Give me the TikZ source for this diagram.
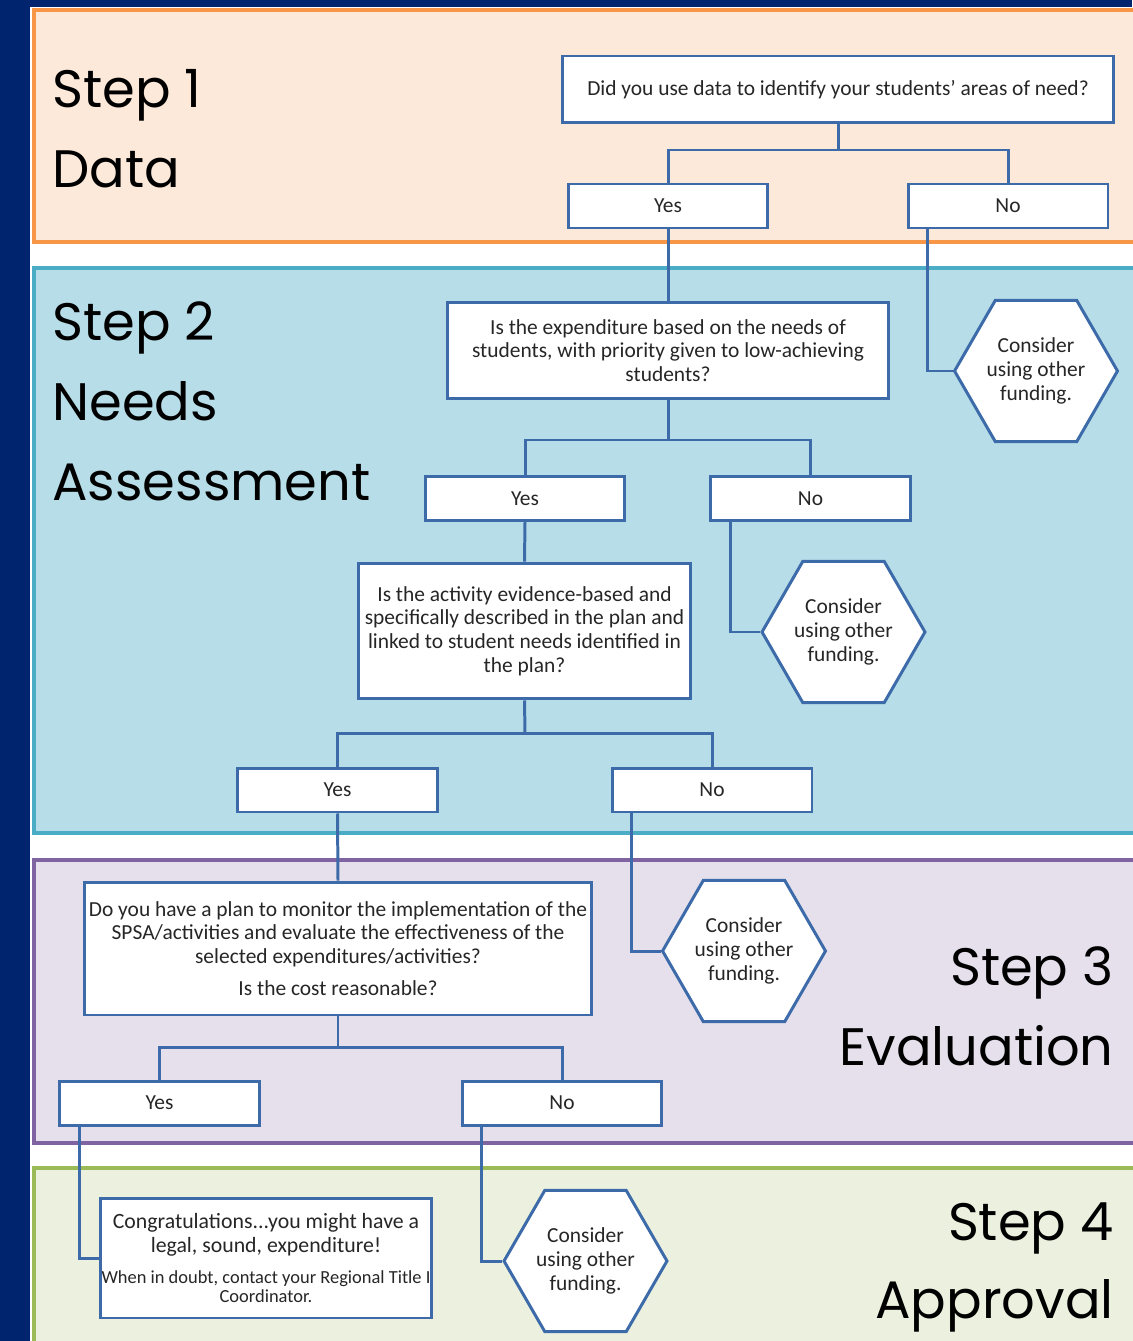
\documentclass[tikz,border=0pt]{standalone}
\usepackage{fontspec}
\setmainfont{Carlito}
\newfontfamily\stepfont{Poppins}
\usetikzlibrary{shapes.geometric,positioning}
\definecolor{navy}{HTML}{00256E}
\definecolor{boxblue}{HTML}{3D6AA8}
\definecolor{txtgray}{HTML}{262626}
\definecolor{dataFill}{HTML}{FDE9D9}
\definecolor{dataLine}{HTML}{F79646}
\definecolor{needFill}{HTML}{B7DEE8}
\definecolor{needLine}{HTML}{4BACC6}
\definecolor{evalFill}{HTML}{E5E0EC}
\definecolor{evalLine}{HTML}{8064A2}
\definecolor{apprFill}{HTML}{EBF1DE}
\definecolor{apprLine}{HTML}{9BBB59}
\newcommand{\bigline}{\fontsize{12.4}{13.5}\selectfont}
\newcommand{\smallline}{\fontsize{10.5}{11}\selectfont}
\tikzset{
  section/.style={line width=1.8pt},
  steplabel/.style={font=\stepfont\fontsize{30}{36}\selectfont, text=black, inner sep=0pt},
  qbox/.style={rectangle, draw=boxblue, line width=1.7pt, fill=white, align=center,
               text=txtgray, font=\fontsize{12.2}{13.5}\selectfont, inner sep=2pt},
  answer/.style={qbox, minimum width=4cm, minimum height=0.88cm},
  hexa/.style={regular polygon, regular polygon sides=6, draw=boxblue, line width=1.7pt,
               fill=white, align=center, text=txtgray, font=\fontsize{12.2}{13.5}\selectfont,
               inner sep=0pt, minimum size=3.26cm},
  link/.style={draw=boxblue, line width=1.7pt},
}

\begin{document}
\begin{tikzpicture}[x=0.02cm, y=-0.02cm]
\useasboundingbox (0,0) rectangle (1132,1341);

% Page and step bands
\fill[navy] (0,0) rectangle (1132,1341);
\fill[white] (30,7) rectangle (1140,1345);
\draw[section, draw=dataLine, fill=dataFill] (34,10) rectangle (1145,242);
\draw[section, draw=needLine, fill=needFill] (34,268) rectangle (1145,833);
\draw[section, draw=evalLine, fill=evalFill] (34,860) rectangle (1145,1143);
\draw[section, draw=apprLine, fill=apprFill] (34,1168) rectangle (1145,1360);

% Step titles
\node[steplabel, anchor=base west] (s1a) at (52,108) {Step 1};
\node[steplabel, anchor=base west] (s1b) at (52,188) {Data};
\node[steplabel, anchor=base west] (s2a) at (52,340) {Step 2};
\node[steplabel, anchor=base west] (s2b) at (52,420) {Needs};
\node[steplabel, anchor=base west] (s2c) at (52,500) {Assessment};
\node[steplabel, anchor=base east] (s3a) at (1114,985) {Step 3};
\node[steplabel, anchor=base east] (s3b) at (1114,1065) {Evaluation};
\node[steplabel, anchor=base east] (s4a) at (1114,1240) {Step 4};
\node[steplabel, anchor=base east] (s4b) at (1114,1318) {Approval};

% Step 1 blocks
\node[qbox, minimum width=11.04cm, minimum height=1.34cm] (q1) at (838,89.5)
  {Did you use data to identify your students’ areas of need?};
\node[answer] (yes1) at (668,206) {Yes};
\node[answer] (no1) at (1008,206) {No};
\coordinate (j1) at (838,150);

% Step 2 blocks
\node[qbox, minimum width=8.84cm, minimum height=1.94cm] (q2) at (668,350.5)
  {Is the expenditure based on the needs of\\ students, with priority given to low-achieving\\ students?};
\node[hexa] (hex1) at (1036,371) {Consider\\ using other\\ funding.};
\node[answer] (yes2) at (525,498.5) {Yes};
\node[answer] (no2) at (810.5,498.5) {No};
\coordinate (j2) at (668,440);
\node[qbox, minimum width=6.66cm, minimum height=2.72cm] (q3) at (524.5,631)
  {Is the activity evidence-based and\\ specifically described in the plan and\\ linked to student needs identified in\\ the plan?};
\node[hexa] (hex2) at (843.5,632) {Consider\\ using other\\ funding.};
\node[answer] (yes3) at (337.5,790) {Yes};
\node[answer] (no3) at (712,790) {No};
\coordinate (j3) at (525,733);

% Step 3 blocks
\node[qbox, minimum width=10.16cm, minimum height=2.66cm] (q4) at (338,948.5)
  {Do you have a plan to monitor the implementation of the\\ SPSA/activities and evaluate the effectiveness of the\\ selected expenditures/activities?\\[4.7pt] Is the cost reasonable?};
\node[hexa] (hex3) at (744,951) {Consider\\ using other\\ funding.};
\node[answer] (yes4) at (159.5,1103) {Yes};
\node[answer] (no4) at (562,1103) {No};
\coordinate (j4) at (338,1047);

% Step 4 blocks
\node[qbox, minimum width=6.64cm, minimum height=2.4cm, inner sep=0pt] (congrats) at (266,1258)
  {\bigline Congratulations...you might have a\\ \bigline legal, sound, expenditure!\\[4.5pt]
   \smallline When in doubt, contact your Regional Title I\\[-2.7pt] \smallline Coordinator.};
\node[hexa] (hex4) at (585.5,1261) {Consider\\ using other\\ funding.};

% Connectors
\draw[link] (q1.south) -- (j1);
\draw[link] (yes1.north) |- (j1) -| (no1.north);
\draw[link] (yes1.south) -- (q2.north);
\draw[link] ([xshift=0.42cm]no1.south west) |- (hex1.west);

\draw[link] (q2.south) -- (j2);
\draw[link] (yes2.north) |- (j2) -| (no2.north);
\draw[link] (yes2.south) -- (q3.north);
\draw[link] ([xshift=0.42cm]no2.south west) |- (hex2.west);

\draw[link] (q3.south) -- (j3);
\draw[link] (yes3.north) |- (j3) -| (no3.north);
\draw[link] (yes3.south) -- (q4.north);
\draw[link] ([xshift=0.42cm]no3.south west) |- (hex3.west);

\draw[link] (q4.south) -- (j4);
\draw[link] (yes4.north) |- (j4) -| (no4.north);
\draw[link] ([xshift=0.42cm]yes4.south west) |- (congrats.west);
\draw[link] ([xshift=0.42cm]no4.south west) |- (hex4.west);

\end{tikzpicture}
\end{document}
